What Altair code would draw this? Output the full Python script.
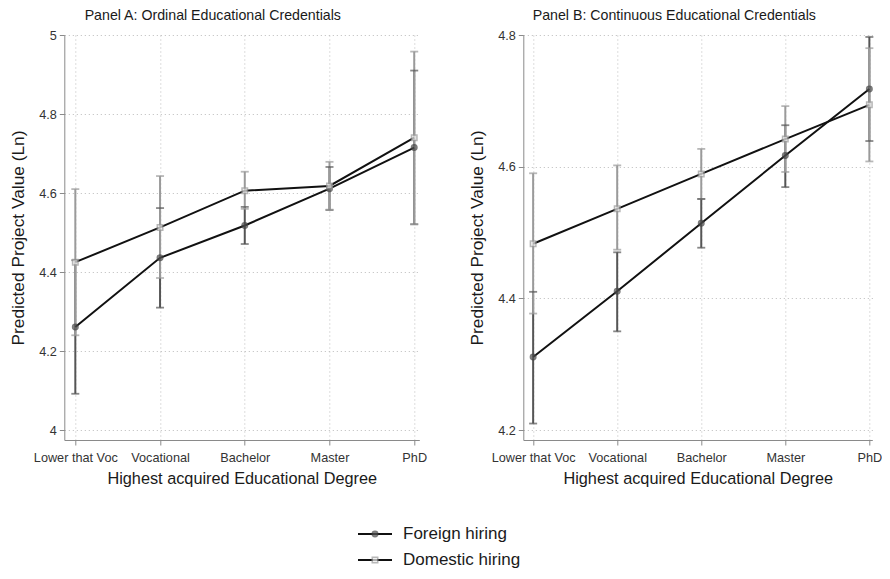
import altair as alt
import pandas as pd

degrees = ["Lower that Voc", "Vocational", "Bachelor", "Master", "PhD"]
groups = ["Foreign hiring", "Domestic hiring"]

# Panel A: ordinal credentials
a_foreign = [4.261, 4.436, 4.518, 4.611, 4.715]
a_foreign_lo = [4.092, 4.310, 4.471, 4.557, 4.521]
a_foreign_hi = [4.430, 4.562, 4.565, 4.666, 4.910]
a_domestic = [4.425, 4.513, 4.606, 4.618, 4.740]
a_domestic_lo = [4.240, 4.385, 4.560, 4.558, 4.521]
a_domestic_hi = [4.610, 4.643, 4.654, 4.679, 4.958]

# Panel B: continuous credentials
b_foreign = [4.311, 4.411, 4.514, 4.617, 4.718]
b_foreign_lo = [4.210, 4.350, 4.477, 4.569, 4.639]
b_foreign_hi = [4.410, 4.470, 4.551, 4.663, 4.797]
b_domestic = [4.483, 4.536, 4.589, 4.642, 4.694]
b_domestic_lo = [4.377, 4.474, 4.551, 4.592, 4.608]
b_domestic_hi = [4.590, 4.602, 4.627, 4.692, 4.780]

a_yticks = [4.0, 4.2, 4.4, 4.6, 4.8, 5.0]
b_yticks = [4.2, 4.4, 4.6, 4.8]

FONT = "Liberation Sans"
TXT = "#1a1a1a"
AX = "#8a8a8a"


def build_df(fv, flo, fhi, dv, dlo, dhi):
    rows = []
    for g, v, lo, hi in [(groups[0], fv, flo, fhi), (groups[1], dv, dlo, dhi)]:
        for i in range(len(degrees)):
            rows.append({"x": i, "degree": degrees[i], "group": g,
                         "value": v[i], "lo": lo[i], "hi": hi[i]})
    return pd.DataFrame(rows)


label_expr = "[" + ",".join("'" + d + "'" for d in degrees) + "][datum.value]"


def panel(df, title, xdom, ydom, yticks, width, dx):
    base = alt.Chart(df)
    xenc = alt.X("x:Q", scale=alt.Scale(domain=xdom, nice=False, zero=False),
                 axis=alt.Axis(values=list(range(len(degrees))), labelExpr=label_expr,
                               title="Highest acquired Educational Degree",
                               grid=True, gridDash=[1, 3], gridColor="#bbbbbb",
                               labelPadding=6, titlePadding=7, tickSize=5,
                               labelFontSize=12.7, titleFontSize=16.3))
    yenc = alt.Y("value:Q", scale=alt.Scale(domain=ydom, nice=False, zero=False),
                 axis=alt.Axis(values=yticks, format=".1~f",
                               title="Predicted Project Value (Ln)",
                               grid=True, gridDash=[1, 3], gridColor="#bbbbbb",
                               labelPadding=3, titlePadding=11, tickSize=5,
                               labelFontSize=12.7, titleFontSize=17.3))
    ccol = alt.Color("group:N", scale=alt.Scale(domain=groups, range=["#555555", "#9a9a9a"]),
                     legend=None)
    rules = base.mark_rule(strokeWidth=2).encode(
        x=xenc, y=alt.Y("lo:Q"), y2="hi:Q", color=ccol)
    caps_lo = base.mark_tick(orient="horizontal", size=8, thickness=1.8).encode(
        x="x:Q", y="lo:Q", color=ccol)
    caps_hi = base.mark_tick(orient="horizontal", size=8, thickness=1.8).encode(
        x="x:Q", y="hi:Q", color=ccol)
    lines = base.mark_line(color="#111111", strokeWidth=2).encode(
        x="x:Q", y=yenc, detail="group:N")
    pts = base.mark_point(filled=False, strokeWidth=1.5, size=30).encode(
        x="x:Q", y="value:Q",
        shape=alt.Shape("group:N", scale=alt.Scale(domain=groups, range=["circle", "square"]),
                        legend=None),
        fill=alt.Fill("group:N", scale=alt.Scale(domain=groups, range=["#555555", "#eeeeee"]),
                      legend=None),
        stroke=alt.Stroke("group:N", scale=alt.Scale(domain=groups, range=["#444444", "#9a9a9a"]),
                          legend=None),
    )
    return alt.layer(rules, caps_lo, caps_hi, lines, pts).properties(
        width=width, height=405,
        title=alt.TitleParams(title, anchor="middle", frame="group", dx=dx, fontSize=14.2,
                              font=FONT, fontWeight="normal", color=TXT, offset=6),
    )


dfa = build_df(a_foreign, a_foreign_lo, a_foreign_hi, a_domestic, a_domestic_lo, a_domestic_hi)
dfb = build_df(b_foreign, b_foreign_lo, b_foreign_hi, b_domestic, b_domestic_lo, b_domestic_hi)

pa = panel(dfa, "Panel A: Ordinal Educational Credentials", [-0.13, 4.06], [3.975, 5.0],
           a_yticks, 355, -29)
pb = panel(dfb, "Panel B: Continuous Educational Credentials", [-0.117, 4.035], [4.185, 4.8],
           b_yticks, 349, -23.5)

# legend
ldf = pd.DataFrame({"label": groups})
lbase = alt.Chart(ldf)
ly = alt.Y("label:N", sort=groups, axis=None, scale=alt.Scale(type="point", padding=0.35))
lrule = lbase.mark_rule(color="#111111", strokeWidth=2).encode(
    x=alt.value(0), x2=alt.value(34), y=ly)
lpts = lbase.mark_point(filled=False, strokeWidth=1.5, size=30).encode(
    x=alt.value(17), y=ly,
    shape=alt.Shape("label:N", scale=alt.Scale(domain=groups, range=["circle", "square"]), legend=None),
    fill=alt.Fill("label:N", scale=alt.Scale(domain=groups, range=["#555555", "#eeeeee"]), legend=None),
    stroke=alt.Stroke("label:N", scale=alt.Scale(domain=groups, range=["#444444", "#9a9a9a"]), legend=None),
)
ltext = lbase.mark_text(align="left", baseline="middle", fontSize=17, font=FONT, color=TXT).encode(
    x=alt.value(45), y=ly, text="label:N")
legend = alt.layer(lrule, lpts, ltext).properties(width=230, height=44)

top = alt.hconcat(pa, pb, spacing=41)
chart = alt.vconcat(top, legend, spacing=38, center=True).properties(
    padding={"left": 1, "top": 0, "right": 0, "bottom": 0}
).configure(
    font=FONT,
).configure_view(stroke=None).configure_axis(
    domainColor=AX, tickColor=AX, labelColor="#333333", titleColor=TXT,
    labelFont=FONT, titleFont=FONT, titleFontWeight="normal",
).configure_scale(continuousPadding=0)

chart.save("out.html", embed_options={"renderer": "svg", "actions": False})
